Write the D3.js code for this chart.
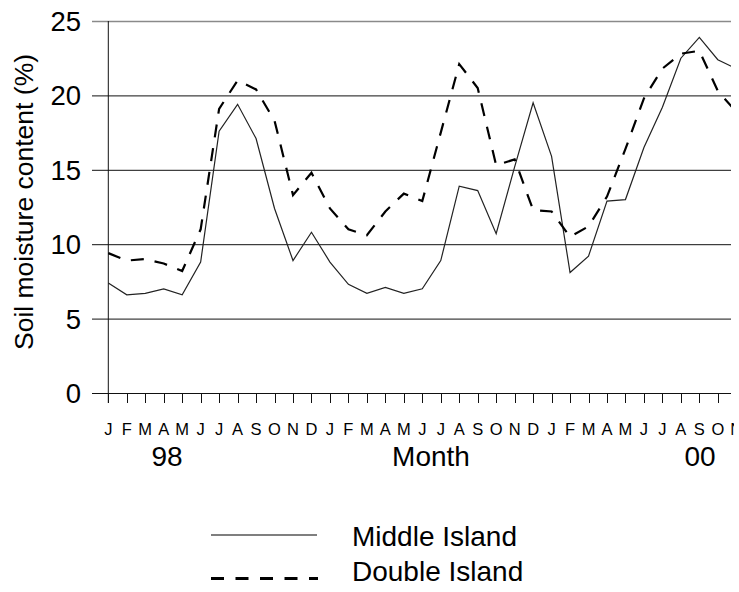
<!DOCTYPE html>
<html>
<head>
<meta charset="utf-8">
<script src="https://cdn.jsdelivr.net/npm/d3@7"></script>
<style>
  body { margin: 0; background: #fff; }
  text { font-family: "Liberation Sans", Arial, sans-serif; fill: #000; }
</style>
</head>
<body>
<div id="chart"></div>
<script>
const months = ["J","F","M","A","M","J","J","A","S","O","N","D",
                "J","F","M","A","M","J","J","A","S","O","N","D",
                "J","F","M","A","M","J","J","A","S","O","N"];
const middleIsland = [7.4, 6.6, 6.7, 7.0, 6.6, 8.8, 17.6, 19.4, 17.1, 12.4, 8.9, 10.8,
                      8.8, 7.3, 6.7, 7.1, 6.7, 7.0, 8.9, 13.9, 13.6, 10.7, 15.2, 19.5,
                      15.9, 8.1, 9.2, 12.9, 13.0, 16.5, 19.2, 22.5, 23.9, 22.4, 21.8];
const doubleIsland = [9.4, 8.9, 9.0, 8.7, 8.2, 11.0, 19.1, 21.0, 20.4, 18.3, 13.3, 14.8,
                      12.4, 11.0, 10.6, 12.2, 13.4, 12.9, 17.5, 22.1, 20.5, 15.3, 15.7, 12.3,
                      12.2, 10.5, 11.2, 13.2, 16.4, 19.8, 21.8, 22.8, 23.0, 20.3, 18.9];
const yTicks = [0, 5, 10, 15, 20, 25];
const yearLabels = [["98", 167], ["Month", 431], ["00", 700]];
const seriesNames = ["Middle Island", "Double Island"];

const width = 739, height = 592;
const plotLeft = 108.3, plotTop = 21, plotBottom = 393, plotRight = 731;
const step = 18.47;

const svg = d3.select("#chart").append("svg")
  .attr("width", width)
  .attr("height", height);

const x = d3.scalePoint()
  .domain(d3.range(months.length))
  .range([plotLeft, plotLeft + step * (months.length - 1)]);

const y = d3.scaleLinear()
  .domain([0, 25])
  .range([plotBottom, plotTop]);

const defs = svg.append("defs");
defs.append("clipPath")
  .attr("id", "plotClip")
  .append("rect")
  .attr("x", 0).attr("y", 0)
  .attr("width", plotRight).attr("height", height);

// the last month label is cut off in the original
defs.append("clipPath")
  .attr("id", "labelClip")
  .append("rect")
  .attr("x", 0).attr("y", 0)
  .attr("width", 734).attr("height", height);

// gridlines
svg.selectAll(".grid")
  .data(yTicks)
  .enter()
  .append("line")
  .attr("x1", 92)
  .attr("x2", plotRight)
  .attr("y1", d => y(d) + 0.5)
  .attr("y2", d => y(d) + 0.5)
  .attr("stroke", d => d === 25 ? "#8a8a8a" : "#111")
  .attr("stroke-width", d => d === 25 ? 1.5 : 1);

// y tick labels
svg.selectAll(".ylab")
  .data(yTicks)
  .enter()
  .append("text")
  .attr("x", 81)
  .attr("y", d => y(d))
  .attr("dy", "0.36em")
  .attr("text-anchor", "end")
  .style("font-size", "27.5px")
  .text(d => d);

// y axis line
svg.append("line")
  .attr("x1", plotLeft).attr("x2", plotLeft)
  .attr("y1", plotTop).attr("y2", plotBottom + 10)
  .attr("stroke", "#111");

// x axis ticks
const tickIdx = d3.range(months.length).filter(i => x(i) <= plotRight);
svg.selectAll(".xtick")
  .data(tickIdx)
  .enter()
  .append("line")
  .attr("x1", d => Math.round(x(d)) + 0.5)
  .attr("x2", d => Math.round(x(d)) + 0.5)
  .attr("y1", plotBottom)
  .attr("y2", plotBottom + 10)
  .attr("stroke", "#111");

// month labels
svg.append("g")
  .attr("clip-path", "url(#labelClip)")
  .selectAll("text")
  .data(months)
  .enter()
  .append("text")
  .attr("x", (d, i) => x(i))
  .attr("y", 435)
  .attr("text-anchor", "middle")
  .style("font-size", "16.5px")
  .text(d => d);

svg.selectAll(".year")
  .data(yearLabels)
  .enter()
  .append("text")
  .attr("x", d => d[1])
  .attr("y", 466)
  .attr("text-anchor", "middle")
  .style("font-size", "28px")
  .text(d => d[0]);

// y title
svg.append("text")
  .attr("transform", "translate(33,202) rotate(-90)")
  .attr("text-anchor", "middle")
  .style("font-size", "26.5px")
  .text("Soil moisture content (%)");

// lines
const line = d3.line()
  .x((d, i) => x(i))
  .y(d => y(d));

const plot = svg.append("g").attr("clip-path", "url(#plotClip)");

plot.append("path")
  .datum(middleIsland)
  .attr("d", line)
  .attr("fill", "none")
  .attr("stroke", "#222")
  .attr("stroke-width", 1.2);

plot.append("path")
  .datum(doubleIsland)
  .attr("d", line)
  .attr("fill", "none")
  .attr("stroke", "#000")
  .attr("stroke-width", 2.2)
  .attr("stroke-dasharray", "13,11");

// legend
const legend = svg.append("g");
legend.append("line")
  .attr("x1", 211).attr("x2", 317)
  .attr("y1", 535).attr("y2", 535)
  .attr("stroke", "#555")
  .attr("stroke-width", 1.5);
legend.append("line")
  .attr("x1", 211).attr("x2", 318)
  .attr("y1", 578.5).attr("y2", 578.5)
  .attr("stroke", "#000")
  .attr("stroke-width", 3)
  .attr("stroke-dasharray", "13,11.5");

legend.selectAll(".leg")
  .data(seriesNames)
  .enter()
  .append("text")
  .attr("x", 352)
  .attr("y", (d, i) => 546 + i * 35)
  .style("font-size", "28px")
  .text(d => d);
</script>
</body>
</html>
